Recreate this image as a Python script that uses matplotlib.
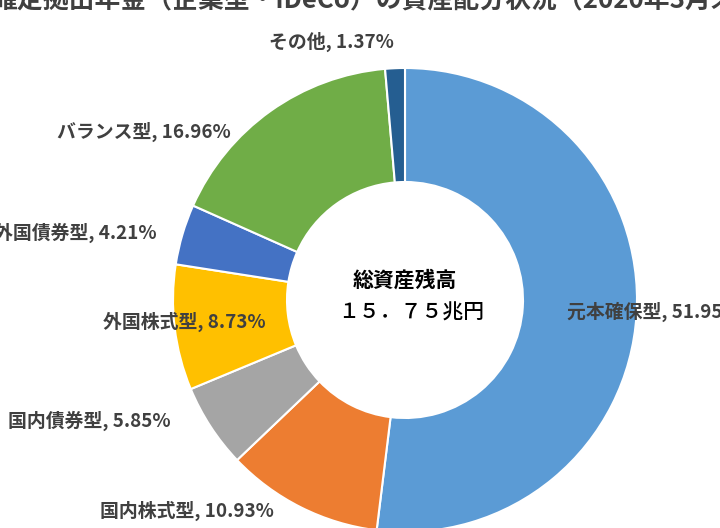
import matplotlib
matplotlib.use("Agg")
import matplotlib.pyplot as plt

plt.rcParams['font.family'] = ['Noto Sans CJK JP', 'DejaVu Sans']

# data
categories = ['元本確保型', '国内株式型', '国内債券型', '外国株式型', '外国債券型', 'バランス型', 'その他']
shares = [51.95, 10.93, 5.85, 8.73, 4.21, 16.96, 1.37]
colors = ['#5B9BD5', '#ED7D31', '#A5A5A5', '#FFC000', '#4472C4', '#70AD47', '#255E91']
title = '確定拠出年金（企業型・iDeCo）の資産配分状況（2020年3月末）'
center_lines = ['総資産残高', '１５．７５兆円']

W, H = 720, 528
fig = plt.figure(figsize=(W / 100, H / 100), dpi=100)
ax = fig.add_axes([0, 0, 1, 1])


def py(y):
    # pixel row from top -> data y
    return H - y


ax.pie(shares, colors=colors, startangle=90, counterclock=False,
       center=(405, py(300)), radius=232,
       wedgeprops=dict(width=114, edgecolor='white', linewidth=1.5))
ax.set_xlim(0, W)
ax.set_ylim(0, H)
ax.axis('off')

# label placement (left x, centre y in pixels)
label_pos = {
    '元本確保型': (567, 312),
    '国内株式型': (100, 511),
    '国内債券型': (8, 421),
    '外国株式型': (103, 322),
    '外国債券型': (-6, 233),
    'バランス型': (57, 132),
    'その他': (269, 42),
}
for cat, val in zip(categories, shares):
    x, y = label_pos[cat]
    ax.text(x, py(y), f'{cat}, {val:.2f}%', ha='left', va='center',
            fontsize=13.6, fontweight='bold', color='#404040')

ax.text(405, py(280), center_lines[0], ha='center', va='center',
        fontsize=15, fontweight='bold', color='black')
ax.text(411, py(313), center_lines[1], ha='center', va='center',
        fontsize=15, fontweight='medium', color='black')

ax.text(-8, py(7), title, ha='left', va='baseline',
        fontsize=18.6, fontweight='bold', color='#404040')

fig.savefig('out.png', dpi=100)
